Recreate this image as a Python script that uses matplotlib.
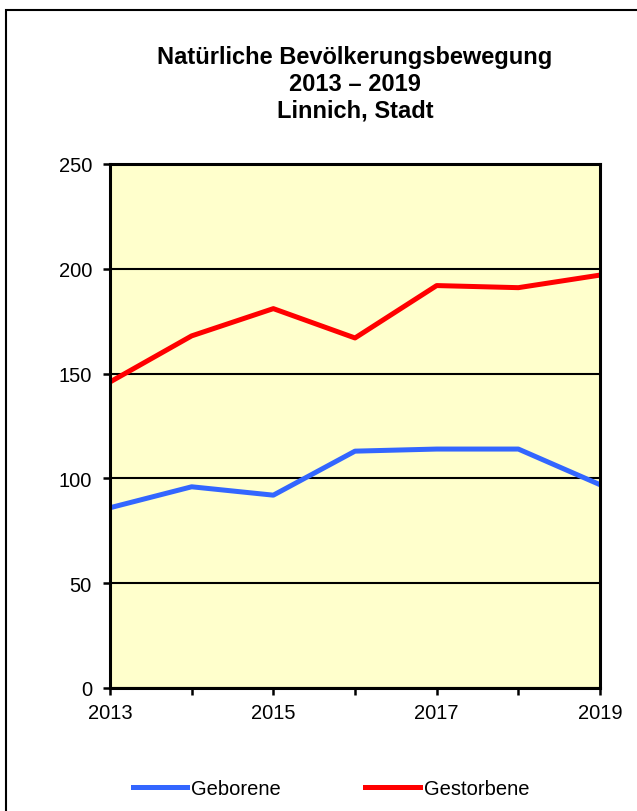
import matplotlib
matplotlib.use("Agg")
import matplotlib.pyplot as plt
from matplotlib.patches import Rectangle

plt.rcParams['font.family'] = ['Liberation Sans', 'DejaVu Sans']

# data
years = [2013, 2014, 2015, 2016, 2017, 2018, 2019]
geborene = [86, 96, 92, 113, 114, 114, 97]
gestorbene = [146, 168, 181, 167, 192, 191, 197]
xtick_labels = ['2013', '2015', '2017', '2019']
title = "Natürliche Bevölkerungsbewegung\n2013 – 2019\nLinnich, Stadt"

fig = plt.figure(figsize=(6.37, 8.12), dpi=100)
ax = fig.add_axes([110/637, 1-689/812, 490/637, 524/812])

# outer frame (runs past right/bottom edge)
fig.patches.append(Rectangle((6/637, -0.05), 1.1, 1 - 11/812 + 0.05,
                             transform=fig.transFigure, fill=False,
                             edgecolor='black', lw=1.5))

ax.set_facecolor('#FFFFCC')
ax.plot(years, geborene, color='#3366FF', lw=3.6, label='Geborene')
ax.plot(years, gestorbene, color='#FF0000', lw=3.6, label='Gestorbene')

ax.set_xlim(2013, 2019)
ax.set_ylim(0, 250)
ax.set_xticks(years)
ax.set_xticklabels([str(y) if str(y) in xtick_labels else '' for y in years])
ax.set_yticks([0, 50, 100, 150, 200, 250])
ax.yaxis.grid(True, color='black', lw=1.5)
ax.set_axisbelow(True)
for s in ax.spines.values():
    s.set_linewidth(2.2)
ax.tick_params(axis='both', direction='out', length=5, width=1.8, labelsize=14.5)
ax.tick_params(axis='y', pad=8)
ax.tick_params(axis='x', pad=6)

fig.text(355/637, 1-46/812, title, ha='center', va='top', fontsize=17,
         fontweight='bold', linespacing=1.2)

fig.legend(loc='center', bbox_to_anchor=(331/637, 1-790/812), ncol=2, frameon=False,
           fontsize=14.5, handlelength=2.7, columnspacing=4.2, handletextpad=0.2)

fig.savefig('out.png', dpi=100)
